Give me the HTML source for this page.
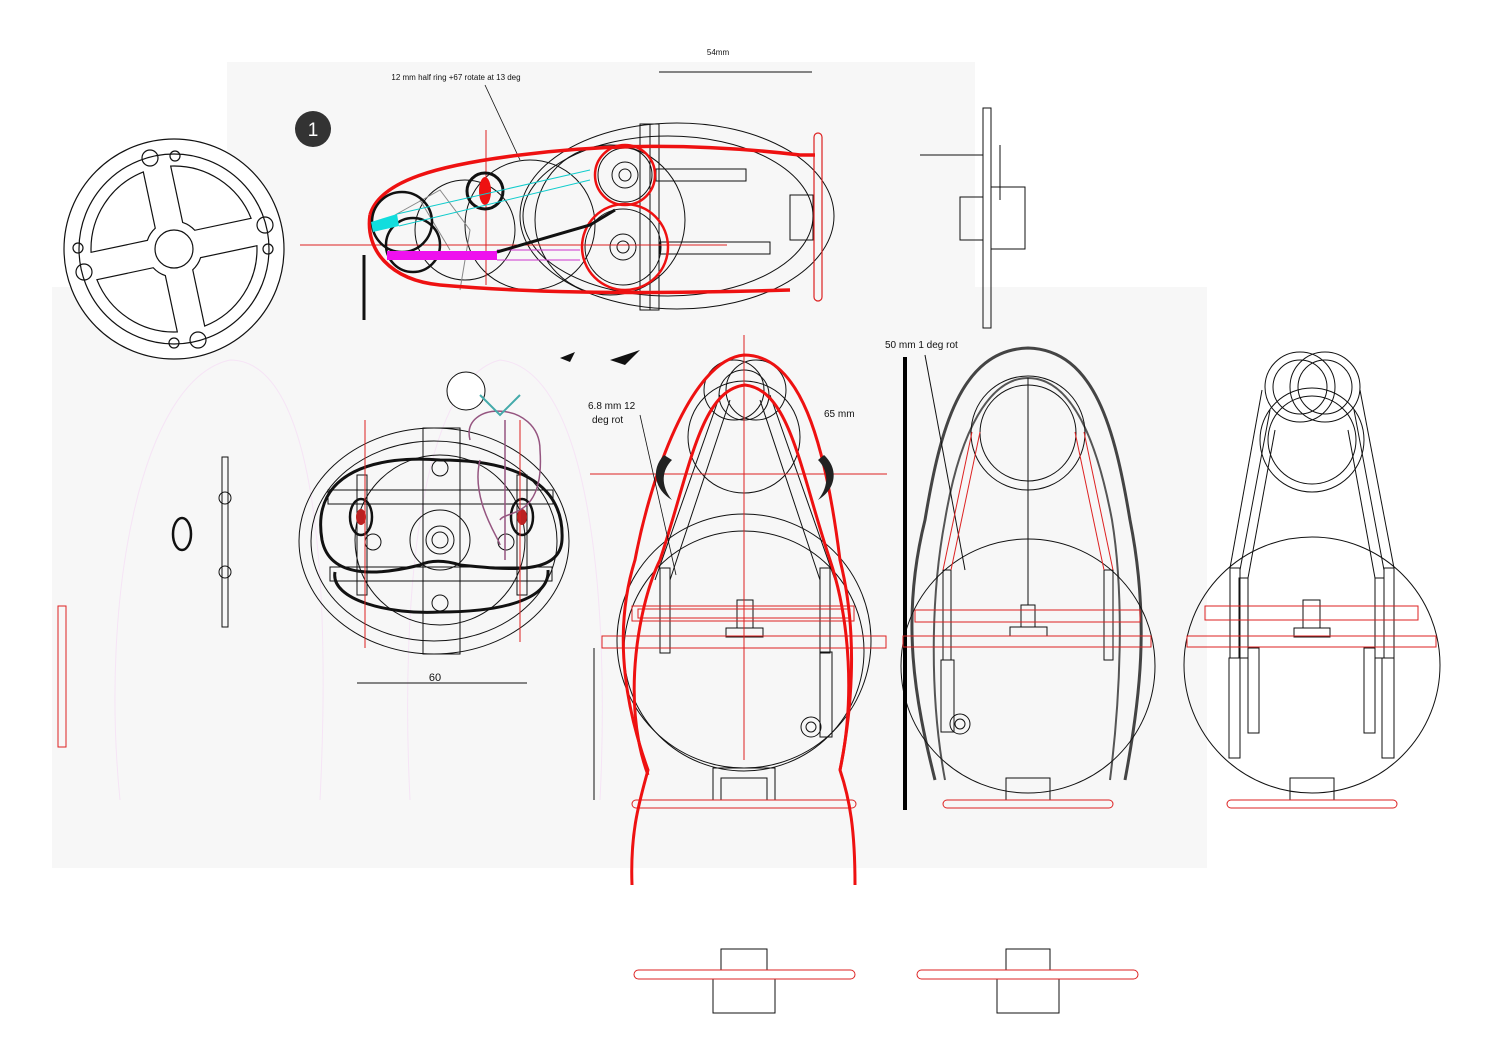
<!DOCTYPE html>
<html><head><meta charset="utf-8"><style>
html,body{margin:0;padding:0;background:#fff;}
svg{display:block;}
text{font-family:"Liberation Sans",sans-serif;fill:#111;}
</style></head><body>
<svg width="1489" height="1053" viewBox="0 0 1489 1053" xmlns="http://www.w3.org/2000/svg">
<rect x="0" y="0" width="1489" height="1053" fill="#fff"/>
<rect x="227" y="62" width="748" height="230" fill="#f7f7f7"/>
<rect x="52" y="287" width="1155" height="581" fill="#f7f7f7"/>

<!-- wheel -->
<g fill="none" stroke="#111" stroke-width="1.2">
<circle cx="174" cy="249" r="110" fill="#fff"/>
<circle cx="174" cy="249" r="95"/>
<circle cx="174" cy="249" r="19"/>
<g transform="translate(174 249)">
<path d="M14,81.8 L14,24.2 A28,28 0 0 0 24.2,14 L81.8,14 A83,83 0 0 1 14,81.8 Z" transform="rotate(-12)"/>
<path d="M14,81.8 L14,24.2 A28,28 0 0 0 24.2,14 L81.8,14 A83,83 0 0 1 14,81.8 Z" transform="rotate(78)"/>
<path d="M14,81.8 L14,24.2 A28,28 0 0 0 24.2,14 L81.8,14 A83,83 0 0 1 14,81.8 Z" transform="rotate(168)"/>
<path d="M14,81.8 L14,24.2 A28,28 0 0 0 24.2,14 L81.8,14 A83,83 0 0 1 14,81.8 Z" transform="rotate(258)"/>
</g>
<circle cx="150" cy="158" r="8"/><circle cx="175" cy="156" r="5"/>
<circle cx="265" cy="225" r="8"/><circle cx="268" cy="249" r="5"/>
<circle cx="84" cy="272" r="8"/><circle cx="78" cy="248" r="5"/>
<circle cx="198" cy="340" r="8"/><circle cx="174" cy="343" r="5"/>
</g>

<!-- badge -->
<circle cx="313" cy="129" r="18" fill="#333"/>
<text x="313" y="136" font-size="19" text-anchor="middle" style="fill:#fff">1</text>

<!-- top labels -->
<text x="718" y="55" font-size="8" text-anchor="middle">54mm</text>
<line x1="659" y1="72" x2="812" y2="72" stroke="#111"/>
<text x="456" y="80" font-size="8" text-anchor="middle">12 mm half ring +67 rotate at 13 deg</text>
<line x1="485" y1="85" x2="520" y2="160" stroke="#111" stroke-width="0.8"/>

<!-- top side view -->
<g fill="none" stroke="#111" stroke-width="1">
<ellipse cx="677" cy="216" rx="157" ry="93"/>
<ellipse cx="668" cy="216" rx="145" ry="80"/>
<circle cx="610" cy="220" r="75"/>
<circle cx="530" cy="225" r="65"/>
<circle cx="465" cy="230" r="50"/>
<rect x="640" y="124" width="10" height="186"/><rect x="650" y="124" width="9" height="186"/>
<rect x="656" y="169" width="90" height="12"/>
<rect x="660" y="242" width="110" height="12"/>
<rect x="790" y="195" width="23" height="45"/>
<circle cx="625" cy="175" r="27"/><circle cx="625" cy="175" r="13"/><circle cx="625" cy="175" r="6"/>
<circle cx="623" cy="247" r="38"/><circle cx="623" cy="247" r="13"/><circle cx="623" cy="247" r="6"/>
<path d="M395 215 L440 190 L470 230 L460 290 M420 200 L450 250" stroke="#888"/>
</g>
<rect x="814" y="133" width="8" height="168" rx="4" fill="none" stroke="#d22" stroke-width="1.2"/>
<line x1="300" y1="245" x2="727" y2="245" stroke="#d22" stroke-width="1"/>
<line x1="486" y1="130" x2="486" y2="285" stroke="#d22" stroke-width="1"/>
<path d="M370 215 C380 180 440 165 520 155 C600 145 690 142 800 155 L815 155" fill="none" stroke="#e11" stroke-width="3.5"/>
<path d="M370 215 C365 250 390 280 440 285 C520 292 620 295 790 290" fill="none" stroke="#e11" stroke-width="3.5"/>
<circle cx="625" cy="175" r="30" fill="none" stroke="#e11" stroke-width="2.5"/>
<circle cx="625" cy="247" r="43" fill="none" stroke="#e11" stroke-width="2.5"/>
<circle cx="402" cy="222" r="30" fill="none" stroke="#111" stroke-width="2.5"/>
<circle cx="413" cy="245" r="27" fill="none" stroke="#111" stroke-width="2.5"/>
<circle cx="485" cy="191" r="18" fill="none" stroke="#111" stroke-width="3"/>
<ellipse cx="485" cy="191" rx="6" ry="14" fill="#e11"/>
<polygon points="371,222 397,214 399,226 373,232" fill="#1dd"/>
<line x1="397" y1="214" x2="590" y2="170" stroke="#1cc" stroke-width="1"/>
<line x1="399" y1="226" x2="590" y2="180" stroke="#1cc" stroke-width="1"/>
<rect x="387" y="251" width="110" height="9" fill="#e1e"/>
<line x1="497" y1="250" x2="580" y2="250" stroke="#c3c"/><line x1="497" y1="260" x2="580" y2="260" stroke="#c3c"/>
<path d="M497 252 L590 225 L615 210" fill="none" stroke="#111" stroke-width="3"/>
<line x1="364" y1="255" x2="364" y2="320" stroke="#111" stroke-width="3"/>

<!-- right side plate -->
<g fill="none" stroke="#111" stroke-width="1">
<rect x="983" y="108" width="8" height="220"/>
<rect x="960" y="197" width="23" height="43"/>
<rect x="991" y="187" width="34" height="62"/>
<line x1="920" y1="155" x2="983" y2="155"/>
<line x1="1000" y1="145" x2="1000" y2="200"/>
</g>

<!-- faint pink sketch left -->
<g fill="none" stroke="#f6e4f6" stroke-width="1">
<path d="M120 800 C100 600 140 380 230 360 C320 360 330 600 320 800"/>
<path d="M410 800 C400 600 420 380 500 360 C590 370 610 600 600 800"/>
</g>
<rect x="58" y="606" width="8" height="141" fill="none" stroke="#d22"/>
<ellipse cx="182" cy="534" rx="9" ry="16" fill="none" stroke="#111" stroke-width="2.5"/>
<rect x="222" y="457" width="6" height="170" fill="none" stroke="#111"/>
<circle cx="225" cy="498" r="6" fill="none" stroke="#111"/><circle cx="225" cy="572" r="6" fill="none" stroke="#111"/>
<circle cx="466" cy="391" r="19" fill="#fff" stroke="#111"/>

<!-- bottom oval view -->
<g fill="none" stroke="#111" stroke-width="1">
<ellipse cx="434" cy="541" rx="135" ry="113"/>
<ellipse cx="434" cy="541" rx="123" ry="100"/>
<rect x="423" y="428" width="37" height="226"/>
<rect x="328" y="490" width="225" height="14"/>
<rect x="330" y="567" width="222" height="14"/>
<rect x="357" y="475" width="10" height="120"/><rect x="517" y="475" width="10" height="120"/>
<circle cx="440" cy="540" r="85"/>
<circle cx="440" cy="540" r="30"/><circle cx="440" cy="540" r="14"/><circle cx="440" cy="540" r="8"/>
<circle cx="440" cy="468" r="8"/><circle cx="440" cy="603" r="8"/>
<circle cx="373" cy="542" r="8"/><circle cx="506" cy="542" r="8"/>
</g>
<path d="M322 540 C310 470 380 455 440 460 C510 460 565 480 562 540 C560 575 510 570 460 565 C445 560 430 560 420 565 C380 575 330 580 322 540 Z" fill="none" stroke="#111" stroke-width="3"/>
<path d="M335 572 C330 600 390 615 440 612 C500 612 550 600 548 570" fill="none" stroke="#111" stroke-width="3"/>
<ellipse cx="361" cy="517" rx="11" ry="18" fill="none" stroke="#111" stroke-width="2.5"/>
<ellipse cx="361" cy="517" rx="5" ry="8" fill="#b22"/>
<ellipse cx="522" cy="517" rx="11" ry="18" fill="none" stroke="#111" stroke-width="2.5"/>
<ellipse cx="522" cy="517" rx="5" ry="8" fill="#b22"/>
<line x1="365" y1="420" x2="365" y2="648" stroke="#d22"/><line x1="520" y1="420" x2="520" y2="642" stroke="#d22"/>
<path d="M470 440 C460 400 540 400 540 450 C545 520 505 510 500 520 M505 420 L505 560 M480 460 C470 500 500 540 500 545" fill="none" stroke="#955580" stroke-width="1.5"/>
<path d="M480 395 L500 415 L520 395" fill="none" stroke="#4aa" stroke-width="2"/>
<text x="435" y="681" font-size="11" text-anchor="middle">60</text>
<line x1="357" y1="683" x2="527" y2="683" stroke="#111"/>
<path d="M560 358 L575 352 L570 362 Z M610 360 L640 350 L625 365 Z" fill="#111"/>

<!-- front view 1 (red) -->
<g fill="none" stroke="#111" stroke-width="1">
<circle cx="744" cy="641" r="127"/>
<circle cx="744" cy="651" r="120"/>
<circle cx="744" cy="437" r="56"/>
<circle cx="744" cy="395" r="25"/><circle cx="734" cy="390" r="30"/><circle cx="756" cy="390" r="30"/>
<rect x="713" y="768" width="62" height="32"/><rect x="721" y="778" width="46" height="22"/>
<rect x="737" y="600" width="16" height="28"/><rect x="726" y="628" width="37" height="9"/>
<rect x="660" y="568" width="10" height="85"/><rect x="820" y="568" width="10" height="85"/>
<rect x="820" y="652" width="12" height="85"/>
<circle cx="811" cy="727" r="10"/><circle cx="811" cy="727" r="5"/>
<line x1="655" y1="580" x2="720" y2="395"/><line x1="670" y1="580" x2="730" y2="400"/>
<line x1="835" y1="580" x2="770" y2="395"/><line x1="820" y1="580" x2="760" y2="400"/>
<line x1="594" y1="648" x2="594" y2="800"/>
</g>
<g fill="none" stroke="#d22" stroke-width="1">
<rect x="632" y="606" width="222" height="15"/><rect x="638" y="609" width="212" height="9"/>
<rect x="602" y="636" width="284" height="12"/>
<line x1="744" y1="335" x2="744" y2="760"/>
<line x1="590" y1="474" x2="887" y2="474"/>
<rect x="632" y="800" width="224" height="8" rx="4"/>
</g>
<path d="M632 885 C630 830 640 800 648 770 C630 720 610 640 635 560 C650 480 690 360 744 355 C800 355 825 440 840 560 C860 640 850 720 840 770 C850 800 855 830 855 885" fill="none" stroke="#e11" stroke-width="3"/>
<path d="M648 775 C620 700 640 600 660 560 C690 470 700 390 745 385 C790 390 800 470 830 560 C850 620 855 700 840 770" fill="none" stroke="#e11" stroke-width="3"/>
<path d="M664 455 C650 470 655 490 672 500 C660 485 662 470 672 460 Z" fill="#222"/>
<path d="M824 455 C840 470 835 490 818 500 C830 485 828 470 818 460 Z" fill="#222"/>
<text x="588" y="409" font-size="10">6.8 mm 12</text>
<text x="592" y="423" font-size="10">deg rot</text>
<line x1="640" y1="415" x2="676" y2="575" stroke="#111" stroke-width="0.8"/>
<text x="824" y="417" font-size="10">65 mm</text>

<!-- front view 2 (gray sketch) -->
<path d="M935 780 C915 700 900 620 925 520 C940 430 960 350 1028 348 C1095 350 1115 430 1130 520 C1150 620 1140 700 1125 780" fill="none" stroke="#444" stroke-width="3"/>
<path d="M945 780 C930 700 930 600 945 520 C960 430 990 378 1028 378 C1068 378 1095 430 1112 520 C1125 600 1120 700 1110 780" fill="none" stroke="#555" stroke-width="2"/>
<g fill="none" stroke="#111" stroke-width="1">
<circle cx="1028" cy="666" r="127"/>
<circle cx="1028" cy="433" r="57"/><circle cx="1028" cy="433" r="48"/>
<line x1="1028" y1="378" x2="1028" y2="605"/>
<rect x="1021" y="605" width="14" height="22"/><rect x="1010" y="627" width="37" height="9"/>
<rect x="943" y="570" width="8" height="90"/><rect x="941" y="660" width="13" height="72"/>
<rect x="1104" y="570" width="9" height="90"/>
<circle cx="960" cy="724" r="10"/><circle cx="960" cy="724" r="5"/>
<rect x="1006" y="778" width="44" height="22"/>
<line x1="925" y1="355" x2="965" y2="570"/>
</g>
<line x1="905" y1="357" x2="905" y2="810" stroke="#000" stroke-width="4"/>
<g fill="none" stroke="#d22" stroke-width="1">
<rect x="915" y="610" width="225" height="12"/><rect x="903" y="636" width="248" height="11"/>
<line x1="943" y1="570" x2="972" y2="432"/><line x1="951" y1="570" x2="980" y2="432"/>
<line x1="1104" y1="570" x2="1075" y2="432"/><line x1="1113" y1="570" x2="1084" y2="432"/>
<rect x="943" y="800" width="170" height="8" rx="4"/>
</g>
<text x="885" y="348" font-size="10">50 mm 1 deg rot</text>

<!-- front view 3 -->
<g fill="none" stroke="#111" stroke-width="1">
<circle cx="1312" cy="665" r="128"/>
<circle cx="1312" cy="440" r="52"/><circle cx="1312" cy="440" r="44"/>
<circle cx="1300" cy="387" r="35"/><circle cx="1325" cy="387" r="35"/>
<circle cx="1300" cy="387" r="27"/><circle cx="1325" cy="387" r="27"/>
<rect x="1303" y="600" width="17" height="28"/><rect x="1294" y="628" width="36" height="9"/>
<rect x="1230" y="568" width="10" height="90"/><rect x="1239" y="578" width="9" height="80"/>
<rect x="1229" y="658" width="11" height="100"/><rect x="1248" y="648" width="11" height="85"/>
<rect x="1375" y="578" width="9" height="80"/><rect x="1384" y="568" width="10" height="90"/>
<rect x="1364" y="648" width="11" height="85"/><rect x="1382" y="658" width="12" height="100"/>
<line x1="1230" y1="568" x2="1262" y2="390"/><line x1="1240" y1="570" x2="1270" y2="410"/><line x1="1248" y1="578" x2="1275" y2="430"/>
<line x1="1394" y1="568" x2="1360" y2="390"/><line x1="1384" y1="570" x2="1354" y2="410"/><line x1="1375" y1="578" x2="1348" y2="430"/>
<rect x="1290" y="778" width="44" height="22"/>
</g>
<g fill="none" stroke="#d22" stroke-width="1">
<rect x="1205" y="606" width="213" height="14"/><rect x="1187" y="636" width="249" height="11"/>
<rect x="1227" y="800" width="170" height="8" rx="4"/>
</g>

<!-- bottom standalone pieces -->
<g fill="none" stroke="#111" stroke-width="1">
<rect x="721" y="949" width="46" height="21"/><rect x="713" y="979" width="62" height="34"/>
<rect x="1006" y="949" width="44" height="21"/><rect x="997" y="979" width="62" height="34"/>
</g>
<rect x="634" y="970" width="221" height="9" rx="4.5" fill="none" stroke="#d22"/>
<rect x="917" y="970" width="221" height="9" rx="4.5" fill="none" stroke="#d22"/>
</svg>
</body></html>
